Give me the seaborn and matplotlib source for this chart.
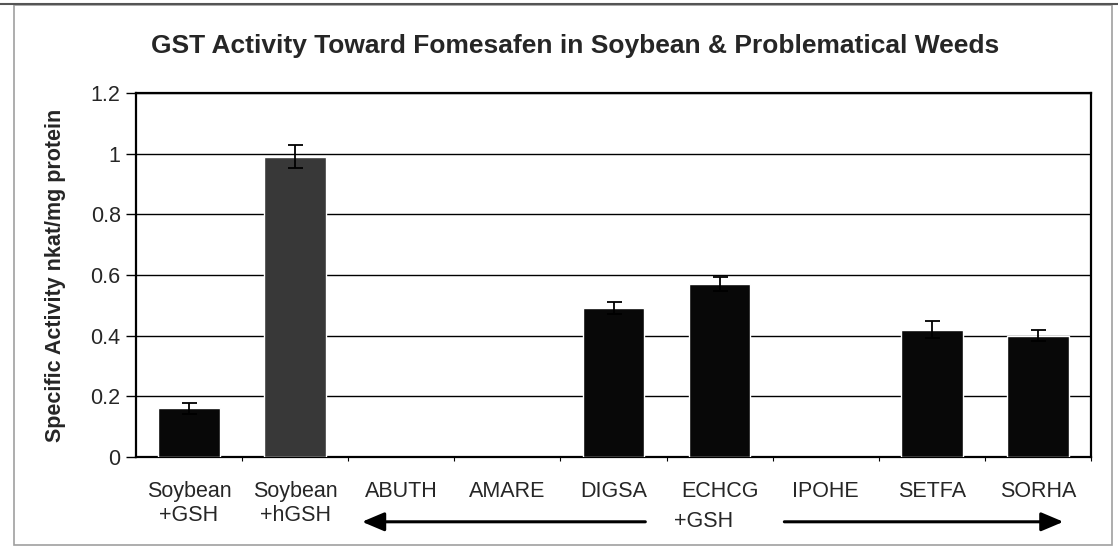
import numpy as np
import pandas as pd
import matplotlib
matplotlib.use("Agg")
import matplotlib.pyplot as plt
from matplotlib.patches import Rectangle
from matplotlib.lines import Line2D
import seaborn as sns

# ---- data ----
categories = ["Soybean\n+GSH", "Soybean\n+hGSH", "ABUTH", "AMARE", "DIGSA",
              "ECHCG", "IPOHE", "SETFA", "SORHA"]
activity = [0.16, 0.99, np.nan, np.nan, 0.49, 0.57, np.nan, 0.42, 0.40]
errors = [0.018, 0.037, np.nan, np.nan, 0.02, 0.023, np.nan, 0.027, 0.018]
groups = ["GSH", "hGSH", "GSH", "GSH", "GSH", "GSH", "GSH", "GSH", "GSH"]
yticks = [0, 0.2, 0.4, 0.6, 0.8, 1.0, 1.2]
ytick_labels = ["0", "0.2", "0.4", "0.6", "0.8", "1", "1.2"]
title = "GST Activity Toward Fomesafen in Soybean & Problematical Weeds"
ylabel = "Specific Activity nkat/mg protein"
bracket_label = "+GSH"

df = pd.DataFrame({"category": categories, "activity": activity,
                   "err": errors, "group": groups})

sns.set_theme(style="white")
plt.rcParams["font.family"] = ["Liberation Sans", "DejaVu Sans"]

W, H = 1118, 548
fig = plt.figure(figsize=(W / 100, H / 100), dpi=100)
fig.patch.set_facecolor("white")
ax = fig.add_axes([136 / W, 1 - 457 / H, (1091 - 136) / W, (457 - 93) / H])

sns.barplot(data=df, x="category", y="activity", hue="group",
            palette={"GSH": "#080808", "hGSH": "#383838"},
            width=0.58, dodge=False, legend=False, errorbar=None,
            saturation=1, ax=ax, zorder=3)

xpos = np.arange(len(categories))
ax.errorbar(xpos, df["activity"], yerr=df["err"], fmt="none",
            ecolor="black", elinewidth=1.3, capsize=5.4, capthick=1.3,
            zorder=4)

ax.set_xlim(-0.5, len(categories) - 0.5)
ax.set_ylim(0, 1.2)
ax.set_yticks(yticks)
ax.set_yticklabels(ytick_labels, fontsize=15.5)
ax.yaxis.grid(True, color="black", linewidth=1.0)
ax.set_axisbelow(True)
ax.tick_params(axis="y", which="major", left=True, length=7, width=1.0,
               color="black", pad=4)
ax.tick_params(axis="x", which="major", bottom=False, labelsize=15.5, pad=11)
ax.set_xticks(xpos + 0.5, minor=True)
ax.tick_params(axis="x", which="minor", bottom=True, length=3, width=0.8,
               color="black")
for lbl in ax.get_xticklabels():
    lbl.set_linespacing(1.2)
for s in ax.spines.values():
    s.set_visible(True)
    s.set_color("black")
    s.set_linewidth(1.6)

ax.set_xlabel("")
ax.set_ylabel(ylabel, fontsize=15.5, fontweight="bold")
ax.yaxis.set_label_coords(-0.073, 0.5)

# bracket arrows under weeds
trans = ax.get_xaxis_transform()
arrow_y = -0.178
ax.annotate("", xy=(1.63, arrow_y), xytext=(4.30, arrow_y),
            xycoords=trans, textcoords=trans,
            arrowprops=dict(arrowstyle="-|>,head_length=0.9,head_width=0.38",
                            color="black", lw=2.2, mutation_scale=15,
                            shrinkA=0, shrinkB=0))
ax.annotate("", xy=(8.24, arrow_y), xytext=(5.61, arrow_y),
            xycoords=trans, textcoords=trans,
            arrowprops=dict(arrowstyle="-|>,head_length=0.9,head_width=0.38",
                            color="black", lw=2.2, mutation_scale=15,
                            shrinkA=0, shrinkB=0))
ax.text(4.85, arrow_y, bracket_label, transform=trans, ha="center",
        va="center", fontsize=15.5)

fig.text(575 / W, 1 - 46 / H, title, ha="center", va="center",
         fontsize=19, fontweight="bold")

# chart outer border
fig.add_artist(Rectangle((14 / W, 1 - 545 / H), (1112 - 14) / W, (545 - 5) / H,
                         transform=fig.transFigure, fill=False,
                         edgecolor="#a0a0a0", linewidth=1.2))
fig.add_artist(Line2D([0, 1], [1 - 4 / H, 1 - 4 / H], transform=fig.transFigure,
                      color="#555555", linewidth=1.5))

fig.savefig("out.png", dpi=100)
